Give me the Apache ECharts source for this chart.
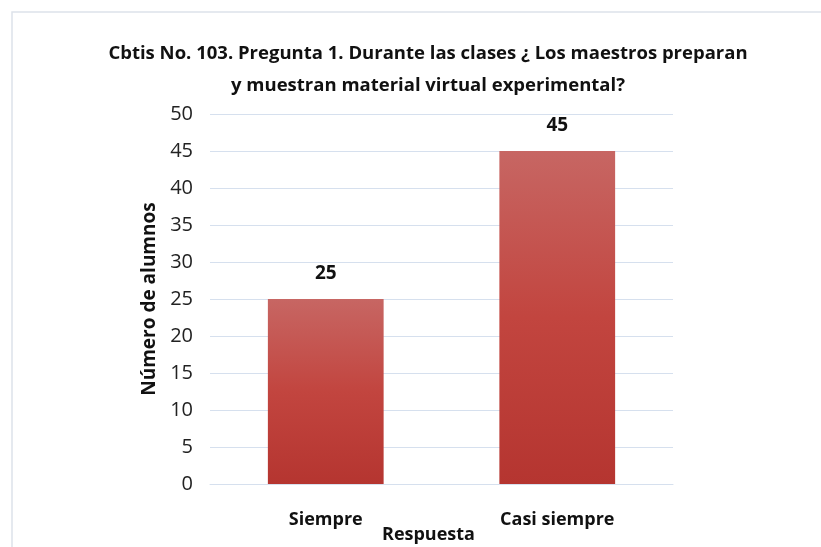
<!DOCTYPE html>
<html>
<head>
<meta charset="utf-8">
<script src="https://cdn.jsdelivr.net/npm/echarts@6/dist/echarts.min.js"></script>
<style>
  html, body { margin: 0; padding: 0; background: #fff; }
  #main { width: 821px; height: 547px; }
</style>
</head>
<body>
<div id="main"></div>
<script>
var categories = ['Siempre', 'Casi siempre']
var values = [25, 45]
var yTicks = [0, 5, 10, 15, 20, 25, 30, 35, 40, 45, 50]

var FONT = "'Open Sans', sans-serif"

var myChart = echarts.init(document.getElementById('main'))

var option = {
    backgroundColor: '#ffffff',
    textStyle: { fontFamily: FONT },
    title: {
        text: 'Cbtis No. 103. Pregunta 1. Durante las clases ¿ Los maestros preparan\ny muestran material virtual experimental?',
        left: 423,
        top: 33,
        textAlign: 'center',
        textStyle: {
            fontFamily: FONT,
            fontSize: 18.5,
            fontWeight: 'bold',
            color: '#111',
            lineHeight: 32
        }
    },
    graphic: [
        {
            type: 'rect',
            shape: { x: 12, y: 12, width: 830, height: 560 },
            style: { fill: 'none', stroke: '#dde2ea', lineWidth: 1.5 }
        },
        {
            type: 'text',
            left: 382,
            top: 526,
            style: { text: 'Respuesta', font: 'bold 18px ' + FONT, fill: '#111' }
        }
    ],
    grid: { left: 210, right: 148, top: 114, bottom: 63 },
    xAxis: {
        type: 'category',
        data: categories,
        axisLine: { lineStyle: { color: '#d6e0ee' } },
        axisTick: { show: false },
        axisLabel: {
            fontFamily: FONT,
            fontSize: 18,
            fontWeight: 'bold',
            color: '#111',
            margin: 27
        }
    },
    yAxis: {
        type: 'value',
        min: yTicks[0],
        max: yTicks[yTicks.length - 1],
        interval: yTicks[1] - yTicks[0],
        name: 'Número de alumnos',
        nameLocation: 'middle',
        nameGap: 46,
        nameTextStyle: {
            fontFamily: FONT,
            fontSize: 19,
            fontWeight: 'bold',
            color: '#111'
        },
        axisLine: { show: false },
        axisTick: { show: false },
        axisLabel: { fontFamily: FONT, fontSize: 20, color: '#222', margin: 17 },
        splitLine: { lineStyle: { color: '#d6e0ee', width: 1 } }
    },
    series: [
        {
            type: 'bar',
            data: values,
            barWidth: '50%',
            itemStyle: {
                color: new echarts.graphic.LinearGradient(0, 0, 0, 1, [
                    { offset: 0, color: '#c76663' },
                    { offset: 0.5, color: '#c2453f' },
                    { offset: 1, color: '#b53530' }
                ])
            },
            label: {
                show: true,
                position: 'top',
                distance: 16,
                fontFamily: FONT,
                fontSize: 19,
                fontWeight: 'bold',
                color: '#111'
            }
        }
    ]
}

myChart.setOption(option)
</script>
</body>
</html>
